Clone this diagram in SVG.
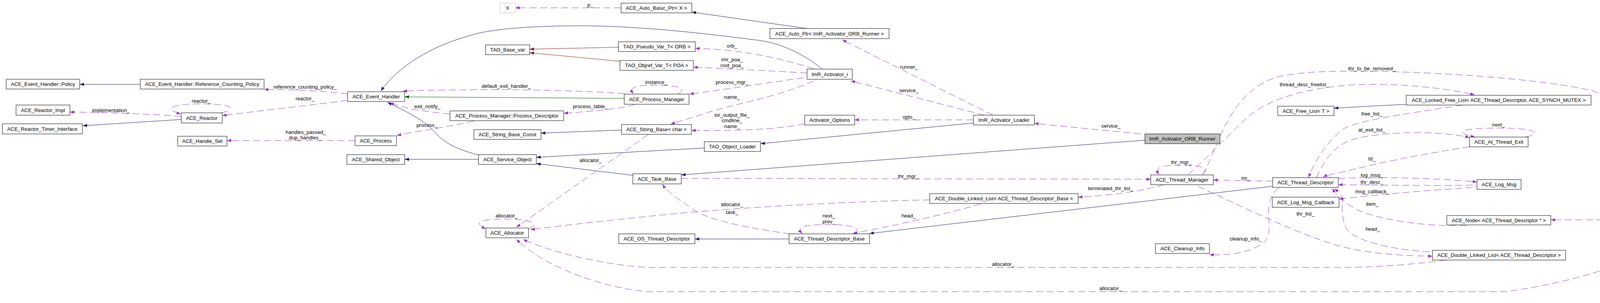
<svg xmlns="http://www.w3.org/2000/svg" width="4515" height="776" viewBox="0 0 4515 776">
<style>
.n rect{fill:#fff;stroke:#000;stroke-width:1}
.n.root rect{fill:#bfbfbf}
.n.ext rect{stroke:#bfbfbf}
text{font-family:"Liberation Sans",Arial,sans-serif;font-size:13.2px;text-anchor:middle;fill:#000}
#edges path{fill:none;stroke-width:1}
.inh{stroke:#191970}
.prv{stroke:#8b1a1a}
.pro{stroke:#006400}
.use{stroke:#9a32cd;stroke-dasharray:18,9}
</style>
<defs>
<marker id="aN" markerWidth="11" markerHeight="8" refX="11" refY="4" orient="auto" markerUnits="userSpaceOnUse"><path d="M0,0 L11,4 L0,8 z" fill="#191970"/></marker>
<marker id="aR" markerWidth="11" markerHeight="8" refX="11" refY="4" orient="auto" markerUnits="userSpaceOnUse"><path d="M0,0 L11,4 L0,8 z" fill="#8b1a1a"/></marker>
<marker id="aG" markerWidth="11" markerHeight="8" refX="11" refY="4" orient="auto" markerUnits="userSpaceOnUse"><path d="M0,0 L11,4 L0,8 z" fill="#006400"/></marker>
<marker id="aP" markerWidth="11" markerHeight="8" refX="11" refY="4" orient="auto" markerUnits="userSpaceOnUse"><path d="M0,0 L11,4 L0,8 z" fill="#9a32cd"/></marker>
</defs>
<rect width="4515" height="776" fill="#fff"/>
<g id="edges">
<path class="inh" marker-end="url(#aN)" d="M359,216 L204,216"/>
<path class="inh" marker-end="url(#aN)" d="M464,306 L212,322"/>
<path class="inh" marker-end="url(#aN)" d="M2105,177 C2060,140 2000,110 1940,103 C1800,85 1650,68 1500,66 C1350,66 1250,75 1200,92 C1100,120 1020,170 975,233"/>
<path class="inh" marker-end="url(#aN)" d="M1225,397 C1180,385 1140,370 1115,340 C1090,310 1040,285 992,262"/>
<path class="inh" marker-end="url(#aN)" d="M1225,408 L1036,408"/>
<path class="inh" marker-end="url(#aN)" d="M1591,333 L1385,341"/>
<path class="inh" marker-end="url(#aN)" d="M1803,379 L1373,403"/>
<path class="inh" marker-end="url(#aN)" d="M2492,315 L1947,368"/>
<path class="inh" marker-end="url(#aN)" d="M1620,449 L1373,419"/>
<path class="inh" marker-end="url(#aN)" d="M2931,359 L1744,448"/>
<path class="inh" marker-end="url(#aN)" d="M2066,73 L1771,31"/>
<path class="inh" marker-end="url(#aN)" d="M3600,267 L3415,277"/>
<path class="inh" marker-end="url(#aN)" d="M3258,477 L2226,598"/>
<path class="inh" marker-end="url(#aN)" d="M2020,612 L1779,612"/>
<path class="prv" marker-end="url(#aR)" d="M1583,121 L1356,126"/>
<path class="prv" marker-end="url(#aR)" d="M1587,157 L1356,135"/>
<path class="pro" marker-end="url(#aG)" d="M1599,252 L1036,248"/>
<path class="use" marker-end="url(#aP)" d="M1590,20 L1319,20"/>
<path class="use" marker-end="url(#aP)" d="M890,241 C830,232 740,230 676,229"/>
<path class="use" marker-end="url(#aP)" d="M890,257 C790,270 680,282 569,296"/>
<path class="use" marker-end="url(#aP)" d="M566,289 C600,282 608,266 515,266 C425,266 425,282 463,292"/>
<path class="use" marker-end="url(#aP)" d="M464,298 C380,292 280,288 179,287"/>
<path class="use" marker-end="url(#aP)" d="M909,360 L581,360"/>
<path class="use" marker-end="url(#aP)" d="M1599,240 C1500,232 1300,228 1200,230 C1120,231 1060,231 1031,234"/>
<path class="use" marker-end="url(#aP)" d="M1152,292 C1100,287 1040,280 998,263"/>
<path class="use" marker-end="url(#aP)" d="M1625,268 C1590,278 1520,285 1443,290"/>
<path class="use" marker-end="url(#aP)" d="M1213,310 C1150,325 1070,335 1016,347"/>
<path class="use" marker-end="url(#aP)" d="M1735,241 C1755,232 1750,218 1680,218 C1615,218 1612,228 1622,240"/>
<path class="use" marker-end="url(#aP)" d="M2083,176 C2000,150 1900,126 1780,124"/>
<path class="use" marker-end="url(#aP)" d="M2066,187 C1980,182 1880,177 1775,172"/>
<path class="use" marker-end="url(#aP)" d="M2057,199 C1980,210 1850,230 1765,241"/>
<path class="use" marker-end="url(#aP)" d="M2083,207 C1990,250 1860,270 1800,292 C1760,305 1735,312 1717,318"/>
<path class="use" marker-end="url(#aP)" d="M2060,317 C2000,330 1900,336 1770,334"/>
<path class="use" marker-end="url(#aP)" d="M2492,307 L2188,307"/>
<path class="use" marker-end="url(#aP)" d="M2520,295 L2178,207"/>
<path class="use" marker-end="url(#aP)" d="M2542,295 L2156,102"/>
<path class="use" marker-end="url(#aP)" d="M2920,343 L2648,316"/>
<path class="use" marker-end="url(#aP)" d="M1744,457 L2946,459"/>
<path class="use" marker-end="url(#aP)" d="M2023,599 C1920,585 1820,565 1780,540 C1745,515 1710,495 1696,472"/>
<path class="use" marker-end="url(#aP)" d="M1659,345 L1322,582"/>
<path class="use" marker-end="url(#aP)" d="M1352,586 C1378,578 1375,561 1298,561 C1222,561 1212,572 1244,586"/>
<path class="use" marker-end="url(#aP)" d="M2380,512 C2200,515 1900,530 1700,550 C1550,565 1420,580 1358,588"/>
<path class="use" marker-end="url(#aP)" d="M2511,522 C2400,555 2250,585 2183,598"/>
<path class="use" marker-end="url(#aP)" d="M2190,599 C2205,588 2190,575 2122,575 C2045,575 2040,585 2054,598"/>
<path class="use" marker-end="url(#aP)" d="M2980,473 C2920,490 2850,500 2760,505"/>
<path class="use" marker-end="url(#aP)" d="M3078,447 C3095,436 3090,423 3026,423 C2962,423 2958,432 2967,447"/>
<path class="use" marker-end="url(#aP)" d="M3258,464 L3106,461"/>
<path class="use" marker-end="url(#aP)" d="M3079,447 C3120,380 3150,200 3314,190 C3420,170 3900,190 4074,232 C4150,250 4310,470 4326,552"/>
<path class="use" marker-end="url(#aP)" d="M3042,447 C3100,395 3160,330 3200,295 C3260,245 3380,218 3500,216 C3620,215 3720,230 3775,243"/>
<path class="use" marker-end="url(#aP)" d="M3744,269 C3650,285 3480,305 3440,330 C3400,360 3365,410 3350,455"/>
<path class="use" marker-end="url(#aP)" d="M3370,455 C3395,400 3420,370 3470,355 C3560,335 3680,335 3762,352"/>
<path class="use" marker-end="url(#aP)" d="M3762,376 C3700,385 3560,410 3493,427 C3440,440 3400,448 3387,453"/>
<path class="use" marker-end="url(#aP)" d="M3905,351 C3945,344 3942,328 3836,328 C3730,328 3725,340 3776,351"/>
<path class="use" marker-end="url(#aP)" d="M3426,457 C3520,452 3680,456 3781,466"/>
<path class="use" marker-end="url(#aP)" d="M3770,474 C3700,476 3550,474 3426,473"/>
<path class="use" marker-end="url(#aP)" d="M3770,480 C3700,485 3550,495 3428,510"/>
<path class="use" marker-end="url(#aP)" d="M3755,577 C3640,582 3520,560 3470,535 C3440,518 3420,500 3411,482"/>
<path class="use" marker-end="url(#aP)" d="M3660,645 C3560,640 3470,615 3450,590 C3435,570 3435,530 3437,512 C3435,500 3425,490 3416,483"/>
<path class="use" marker-end="url(#aP)" d="M3067,477 C3160,520 3280,580 3396,620 C3470,645 3560,655 3667,656"/>
<path class="use" marker-end="url(#aP)" d="M3273,481 C3250,500 3246,530 3248,560 C3252,600 3245,620 3222,630 C3190,648 3140,655 3096,652"/>
<path class="use" marker-end="url(#aP)" d="M3702,666 C3600,680 3500,685 3420,685 L1659,685 C1560,680 1420,650 1339,613"/>
<path class="use" marker-end="url(#aP)" d="M4308,580 C4270,610 4180,700 3856,747 L1659,747 C1560,740 1400,690 1322,613"/>
<path class="use" marker-end="url(#aP)" d="M4159,563 L3970,563"/>
</g>
<g id="labels">
<text x="781" y="227">reference_counting_policy_</text>
<text x="781" y="257">reactor_</text>
<text x="515" y="263">reactor_</text>
<text x="284" y="287">implementation_</text>
<text x="783" y="343">handles_passed_</text>
<text x="781" y="357">dup_handles_</text>
<text x="1511" y="17">p_</text>
<text x="1296" y="225">default_exit_handler_</text>
<text x="1094" y="277">exit_notify_</text>
<text x="1511" y="277">process_table_</text>
<text x="1093" y="325">process_</text>
<text x="1680" y="215">instance_</text>
<text x="1874" y="122">orb_</text>
<text x="1874" y="157">imr_poa_</text>
<text x="1874" y="172">root_poa_</text>
<text x="1874" y="215">process_mgr_</text>
<text x="1874" y="253">name_</text>
<text x="1874" y="299">ior_output_file_</text>
<text x="1874" y="313">cmdline_</text>
<text x="1874" y="328">name_</text>
<text x="2327" y="304">opts_</text>
<text x="2327" y="236">service_</text>
<text x="2327" y="176">runner_</text>
<text x="2844" y="327">service_</text>
<text x="1512" y="415">allocator_</text>
<text x="1297" y="557">allocator_</text>
<text x="2325" y="456">thr_mgr_</text>
<text x="1874" y="548">task_</text>
<text x="1874" y="528">allocator_</text>
<text x="2122" y="557">next_</text>
<text x="2122" y="572">prev_</text>
<text x="2326" y="557">head_</text>
<text x="2843" y="487">terminated_thr_list_</text>
<text x="3024" y="420">thr_mgr_</text>
<text x="3189" y="461">tm_</text>
<text x="3512" y="180">thr_to_be_removed_</text>
<text x="3339" y="221">thread_desc_freelist_</text>
<text x="3512" y="296">free_list_</text>
<text x="3512" y="337">at_exit_list_</text>
<text x="3512" y="411">td_</text>
<text x="3836" y="324">next_</text>
<text x="3512" y="453">log_msg_</text>
<text x="3512" y="471">thr_desc_</text>
<text x="3513" y="495">msg_callback_</text>
<text x="3513" y="527">item_</text>
<text x="3514" y="591">head_</text>
<text x="3342" y="552">thr_list_</text>
<text x="3189" y="616">cleanup_info_</text>
<text x="2568" y="681">allocator_</text>
<text x="2843" y="743">allocator_</text>
<text x="4114" y="559">head_</text>
</g>
<g id="n1" class="n"><rect x="16" y="203" width="188" height="25"/><text x="110" y="220">ACE_Event_Handler::Policy</text></g>
<g id="n2" class="n"><rect x="359" y="203" width="317" height="25"/><text x="517.5" y="220">ACE_Event_Handler::Reference_Counting_Policy</text></g>
<g id="n3" class="n"><rect x="41" y="269" width="138" height="26"/><text x="110" y="287">ACE_Reactor_Impl</text></g>
<g id="n4" class="n"><rect x="464" y="289" width="105" height="26"/><text x="516.5" y="307">ACE_Reactor</text></g>
<g id="n5" class="n"><rect x="6" y="317" width="205" height="26"/><text x="108.5" y="335">ACE_Reactor_Timer_Interface</text></g>
<g id="n6" class="n"><rect x="455" y="349" width="126" height="25"/><text x="518" y="366">ACE_Handle_Set</text></g>
<g id="n7" class="n ext"><rect x="1280" y="8" width="39" height="25"/><text x="1299.5" y="25">X</text></g>
<g id="n8" class="n"><rect x="1243" y="115" width="113" height="25"/><text x="1299.5" y="132">TAO_Base_var</text></g>
<g id="n9" class="n"><rect x="890" y="235" width="146" height="25"/><text x="963" y="252">ACE_Event_Handler</text></g>
<g id="n10" class="n"><rect x="1152" y="284" width="291" height="25"/><text x="1297.5" y="301">ACE_Process_Manager::Process_Descriptor</text></g>
<g id="n11" class="n"><rect x="909" y="348" width="106" height="25"/><text x="962" y="365">ACE_Process</text></g>
<g id="n12" class="n"><rect x="1213" y="332" width="172" height="25"/><text x="1299" y="349">ACE_String_Base_Const</text></g>
<g id="n13" class="n"><rect x="888" y="396" width="148" height="25"/><text x="962" y="413">ACE_Shared_Object</text></g>
<g id="n14" class="n"><rect x="1225" y="396" width="148" height="25"/><text x="1299" y="413">ACE_Service_Object</text></g>
<g id="n15" class="n"><rect x="1244" y="584" width="109" height="25"/><text x="1298.5" y="601">ACE_Allocator</text></g>
<g id="n16" class="n"><rect x="1590" y="8" width="181" height="25"/><text x="1680.5" y="25">ACE_Auto_Basic_Ptr&lt; X &gt;</text></g>
<g id="n17" class="n"><rect x="1971" y="73" width="305" height="26"/><text x="2123.5" y="91">ACE_Auto_Ptr&lt; ImR_Activator_ORB_Runner &gt;</text></g>
<g id="n18" class="n"><rect x="1583" y="107" width="197" height="25"/><text x="1681.5" y="124">TAO_Pseudo_Var_T&lt; ORB &gt;</text></g>
<g id="n19" class="n"><rect x="1587" y="155" width="188" height="25"/><text x="1681" y="172">TAO_Objref_Var_T&lt; POA &gt;</text></g>
<g id="n20" class="n"><rect x="2066" y="177" width="116" height="26"/><text x="2124" y="195">ImR_Activator_i</text></g>
<g id="n21" class="n"><rect x="1598" y="241" width="166" height="26"/><text x="1681" y="259">ACE_Process_Manager</text></g>
<g id="n22" class="n"><rect x="1591" y="319" width="179" height="25"/><text x="1680.5" y="336">ACE_String_Base&lt; char &gt;</text></g>
<g id="n23" class="n"><rect x="2060" y="295" width="128" height="25"/><text x="2124" y="312">Activator_Options</text></g>
<g id="n24" class="n"><rect x="1803" y="363" width="144" height="25"/><text x="1875" y="380">TAO_Object_Loader</text></g>
<g id="n25" class="n"><rect x="2492" y="295" width="156" height="25"/><text x="2570" y="312">ImR_Activator_Loader</text></g>
<g id="n26" class="n root"><rect x="2931" y="343" width="192" height="25"/><text x="3027" y="360">ImR_Activator_ORB_Runner</text></g>
<g id="n27" class="n"><rect x="3271" y="272" width="144" height="24"/><text x="3343" y="289">ACE_Free_List&lt; T &gt;</text></g>
<g id="n28" class="n"><rect x="3600" y="244" width="473" height="25"/><text x="3836.5" y="261">ACE_Locked_Free_List&lt; ACE_Thread_Descriptor, ACE_SYNCH_MUTEX &gt;</text></g>
<g id="n29" class="n"><rect x="3762" y="351" width="150" height="25"/><text x="3837" y="368">ACE_At_Thread_Exit</text></g>
<g id="n30" class="n"><rect x="1620" y="445" width="124" height="26"/><text x="1682" y="463">ACE_Task_Base</text></g>
<g id="n31" class="n"><rect x="1584" y="599" width="195" height="25"/><text x="1681.5" y="616">ACE_OS_Thread_Descriptor</text></g>
<g id="n32" class="n"><rect x="2020" y="599" width="206" height="25"/><text x="2123" y="616">ACE_Thread_Descriptor_Base</text></g>
<g id="n33" class="n"><rect x="2380" y="496" width="380" height="25"/><text x="2570" y="513">ACE_Double_Linked_List&lt; ACE_Thread_Descriptor_Base &gt;</text></g>
<g id="n34" class="n"><rect x="2946" y="448" width="160" height="25"/><text x="3026" y="465">ACE_Thread_Manager</text></g>
<g id="n35" class="n"><rect x="2958" y="624" width="138" height="25"/><text x="3027" y="641">ACE_Cleanup_Info</text></g>
<g id="n36" class="n"><rect x="3258" y="455" width="168" height="25"/><text x="3342" y="472">ACE_Thread_Descriptor</text></g>
<g id="n37" class="n"><rect x="3257" y="505" width="171" height="26"/><text x="3342.5" y="523">ACE_Log_Msg_Callback</text></g>
<g id="n38" class="n"><rect x="3781" y="460" width="113" height="25"/><text x="3837.5" y="477">ACE_Log_Msg</text></g>
<g id="n39" class="n"><rect x="3704" y="552" width="266" height="24"/><text x="3837" y="569">ACE_Node&lt; ACE_Thread_Descriptor * &gt;</text></g>
<g id="n40" class="n"><rect x="4159" y="552" width="351" height="24"/><text x="4334.5" y="569">ACE_Unbounded_Queue&lt; ACE_Thread_Descriptor * &gt;</text></g>
<g id="n41" class="n"><rect x="3667" y="641" width="341" height="25"/><text x="3837.5" y="658">ACE_Double_Linked_List&lt; ACE_Thread_Descriptor &gt;</text></g>
</svg>
